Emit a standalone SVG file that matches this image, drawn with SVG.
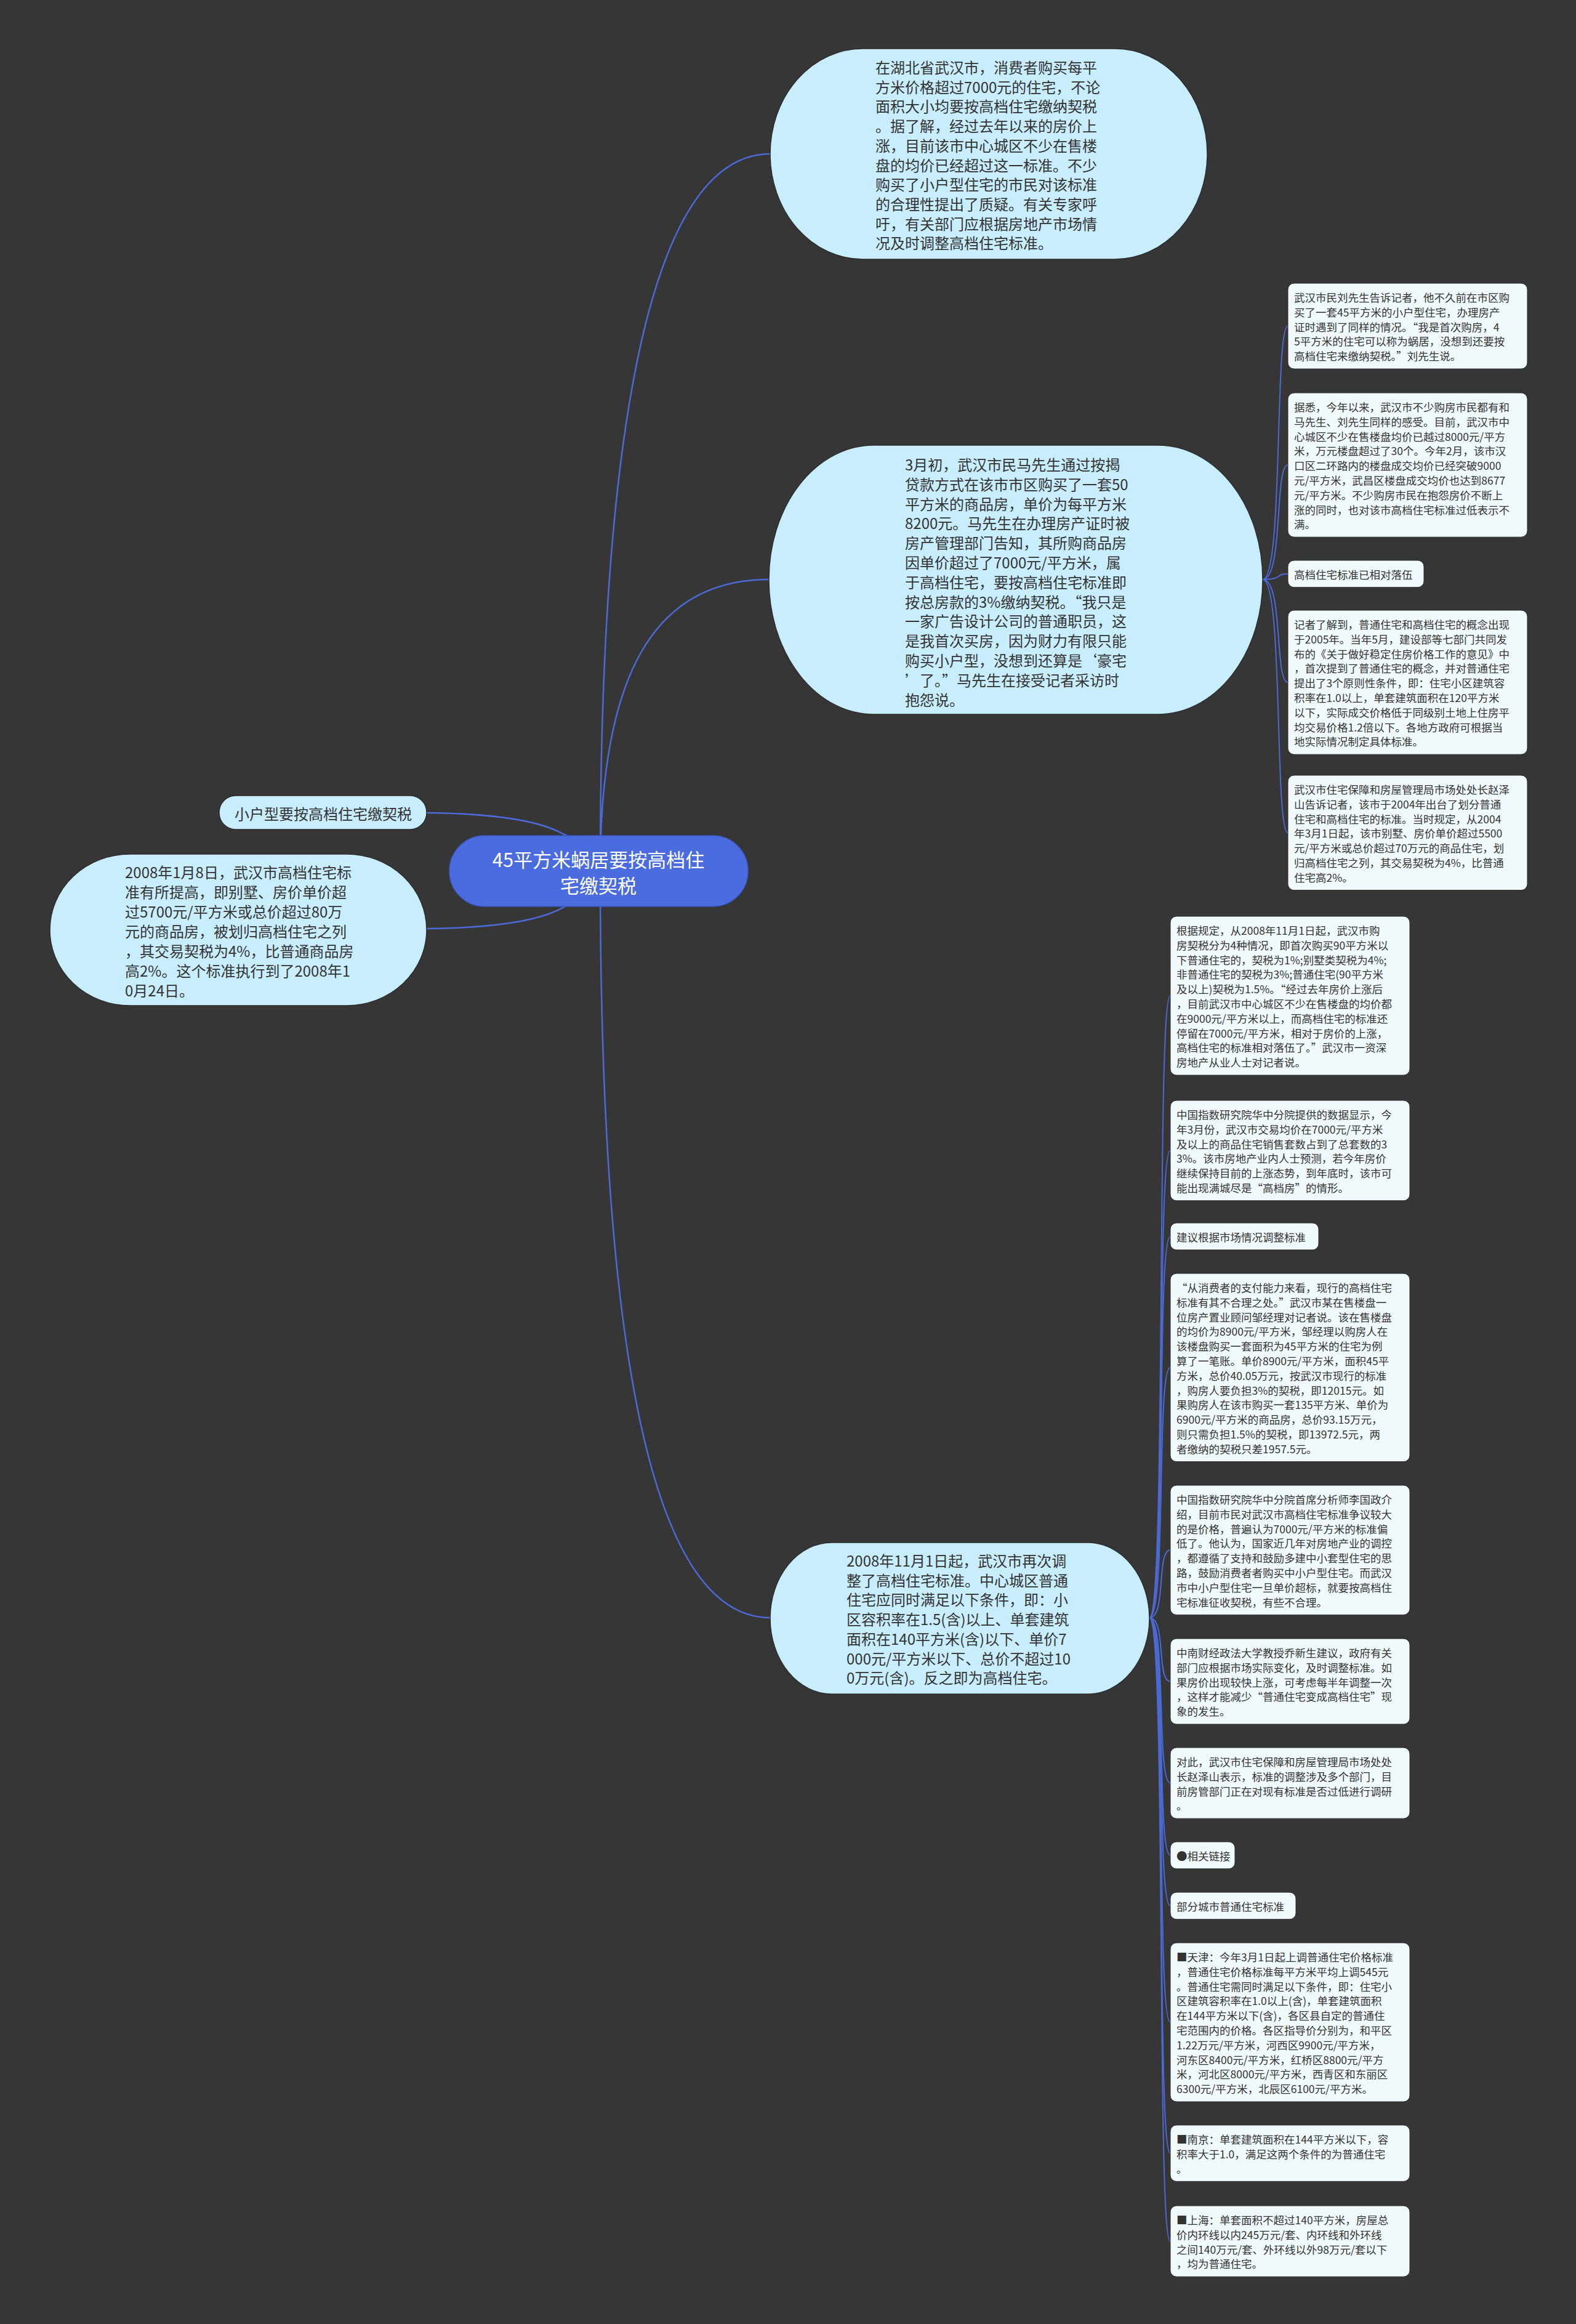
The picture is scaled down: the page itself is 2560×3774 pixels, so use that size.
<svg xmlns="http://www.w3.org/2000/svg" width="2560" height="3774" viewBox="0 0 2560 3774">
<style>
.bg{fill:#363636}
.big{fill:#c8edfc;stroke:#2c2c2c;stroke-width:1.5}
.sub{fill:#f0fafc;stroke:#2c2c2c;stroke-width:1}
.root{fill:#4a6cdf;stroke:#3a58c0;stroke-width:1.5}
text{font-family:"Noto Sans CJK SC","Noto Sans",sans-serif;dominant-baseline:central;fill:#333333}
.t24{font-size:24px}
.t17{font-size:17.5px}
.rt{font-size:31px;fill:#ffffff;text-anchor:middle}
.ln{fill:none;stroke:#4c6ad6;stroke-width:2.5}
.ls{fill:none;stroke:#4c6ad6;stroke-width:2}
</style>
<rect class="bg" x="0" y="0" width="2560" height="3774"/>
<g id="connectors">
<path class="ln" d="M975 1414 C975 680 1060 250 1251 250"/>
<path class="ln" d="M975 1414 C975 1100 1060 941 1249 941"/>
<path class="ln" d="M975 1414 C975 2200 1060 2627 1251 2627"/>
<path class="ln" d="M975 1414 C940 1350 880 1322 693 1320"/>
<path class="ln" d="M975 1414 C940 1478 880 1506 693 1508"/>
<path class="ls" d="M2051 941 C2085 941 2070 529.5 2092 529.5"/>
<path class="ls" d="M2051 941 C2085 941 2070 755.1 2092 755.1"/>
<path class="ls" d="M2051 941 C2085 941 2070 931.9 2092 931.9"/>
<path class="ls" d="M2051 941 C2085 941 2070 1108.1 2092 1108.1"/>
<path class="ls" d="M2051 941 C2085 941 2070 1352.3 2092 1352.3"/>
<path class="ls" d="M1867 2627 C1895 2627 1878 1617 1901 1617"/>
<path class="ls" d="M1867 2627 C1895 2627 1878 1868.4 1901 1868.4"/>
<path class="ls" d="M1867 2627 C1895 2627 1878 2007.9 1901 2007.9"/>
<path class="ls" d="M1867 2627 C1895 2627 1878 2220.8 1901 2220.8"/>
<path class="ls" d="M1867 2627 C1895 2627 1878 2517.2 1901 2517.2"/>
<path class="ls" d="M1867 2627 C1895 2627 1878 2730.5 1901 2730.5"/>
<path class="ls" d="M1867 2627 C1895 2627 1878 2895.6 1901 2895.6"/>
<path class="ls" d="M1867 2627 C1895 2627 1878 3012.9 1901 3012.9"/>
<path class="ls" d="M1867 2627 C1895 2627 1878 3094.9 1901 3094.9"/>
<path class="ls" d="M1867 2627 C1895 2627 1878 3284 1901 3284"/>
<path class="ls" d="M1867 2627 C1895 2627 1878 3496.7 1901 3496.7"/>
<path class="ls" d="M1867 2627 C1895 2627 1878 3639.6 1901 3639.6"/>
</g>
<g id="root">
<rect class="root" x="730" y="1357" width="485" height="115" rx="57" ry="57"/>
<text class="rt"><tspan x="972" y="1394">45平方米蜗居要按高档住</tspan><tspan x="972" y="1436">宅缴契税</tspan></text>
</g>
<g id="n-top">
<rect class="big" x="1251" y="79" width="710" height="342" rx="150" ry="171"/>
<text class="t24"><tspan x="1422" y="108">在湖北省武汉市，消费者购买每平</tspan><tspan x="1422" y="139.7">方米价格超过7000元的住宅，不论</tspan><tspan x="1422" y="171.4">面积大小均要按高档住宅缴纳契税</tspan><tspan x="1422" y="203.1">。据了解，经过去年以来的房价上</tspan><tspan x="1422" y="234.8">涨，目前该市中心城区不少在售楼</tspan><tspan x="1422" y="266.5">盘的均价已经超过这一标准。不少</tspan><tspan x="1422" y="298.2">购买了小户型住宅的市民对该标准</tspan><tspan x="1422" y="329.9">的合理性提出了质疑。有关专家呼</tspan><tspan x="1422" y="361.6">吁，有关部门应根据房地产市场情</tspan><tspan x="1422" y="393.3">况及时调整高档住宅标准。</tspan></text>
</g>
<g id="n-ma">
<rect class="big" x="1249" y="723" width="802" height="437" rx="170" ry="218"/>
<text class="t24"><tspan x="1470" y="753">3月初，武汉市民马先生通过按揭</tspan><tspan x="1470" y="784.8">贷款方式在该市市区购买了一套50</tspan><tspan x="1470" y="816.6">平方米的商品房，单价为每平方米</tspan><tspan x="1470" y="848.4">8200元。马先生在办理房产证时被</tspan><tspan x="1470" y="880.2">房产管理部门告知，其所购商品房</tspan><tspan x="1470" y="912">因单价超过了7000元/平方米，属</tspan><tspan x="1470" y="943.8">于高档住宅，要按高档住宅标准即</tspan><tspan x="1470" y="975.6">按总房款的3%缴纳契税。“我只是</tspan><tspan x="1470" y="1007.4">一家广告设计公司的普通职员，这</tspan><tspan x="1470" y="1039.2">是我首次买房，因为财力有限只能</tspan><tspan x="1470" y="1071">购买小户型，没想到还算是‘豪宅</tspan><tspan x="1470" y="1102.8">’了。”马先生在接受记者采访时</tspan><tspan x="1470" y="1134.6">抱怨说。</tspan></text>
</g>
<g id="n-nov">
<rect class="big" x="1251" y="2505" width="616" height="246" rx="100" ry="123"/>
<text class="t24"><tspan x="1375" y="2533">2008年11月1日起，武汉市再次调</tspan><tspan x="1375" y="2564.7">整了高档住宅标准。中心城区普通</tspan><tspan x="1375" y="2596.4">住宅应同时满足以下条件，即：小</tspan><tspan x="1375" y="2628.1">区容积率在1.5(含)以上、单套建筑</tspan><tspan x="1375" y="2659.8">面积在140平方米(含)以下、单价7</tspan><tspan x="1375" y="2691.5">000元/平方米以下、总价不超过10</tspan><tspan x="1375" y="2723.2">0万元(含)。反之即为高档住宅。</tspan></text>
</g>
<g id="n-small">
<rect class="big" x="356" y="1292" width="337" height="55" rx="27" ry="27"/>
<text class="t24" text-anchor="middle" x="525" y="1320">小户型要按高档住宅缴契税</text>
</g>
<g id="n-jan">
<rect class="big" x="81" y="1387" width="612" height="246" rx="130" ry="123"/>
<text class="t24"><tspan x="203" y="1415">2008年1月8日，武汉市高档住宅标</tspan><tspan x="203" y="1447">准有所提高，即别墅、房价单价超</tspan><tspan x="203" y="1479">过5700元/平方米或总价超过80万</tspan><tspan x="203" y="1511">元的商品房，被划归高档住宅之列</tspan><tspan x="203" y="1543">，其交易契税为4%，比普通商品房</tspan><tspan x="203" y="1575">高2%。这个标准执行到了2008年1</tspan><tspan x="203" y="1607">0月24日。</tspan></text>
</g>
<g id="n-a">
<rect class="sub" x="2092" y="460" width="389" height="139" rx="10"/>
<text class="t17"><tspan x="2102" y="482">武汉市民刘先生告诉记者，他不久前在市区购</tspan><tspan x="2102" y="505.8">买了一套45平方米的小户型住宅，办理房产</tspan><tspan x="2102" y="529.6">证时遇到了同样的情况。“我是首次购房，4</tspan><tspan x="2102" y="553.4">5平方米的住宅可以称为蜗居，没想到还要按</tspan><tspan x="2102" y="577.2">高档住宅来缴纳契税。”刘先生说。</tspan></text>
</g>
<g id="n-b">
<rect class="sub" x="2092" y="638" width="389" height="234.2" rx="10"/>
<text class="t17"><tspan x="2102" y="660">据悉，今年以来，武汉市不少购房市民都有和</tspan><tspan x="2102" y="683.8">马先生、刘先生同样的感受。目前，武汉市中</tspan><tspan x="2102" y="707.6">心城区不少在售楼盘均价已越过8000元/平方</tspan><tspan x="2102" y="731.4">米，万元楼盘超过了30个。今年2月，该市汉</tspan><tspan x="2102" y="755.2">口区二环路内的楼盘成交均价已经突破9000</tspan><tspan x="2102" y="779">元/平方米，武昌区楼盘成交均价也达到8677</tspan><tspan x="2102" y="802.8">元/平方米。不少购房市民在抱怨房价不断上</tspan><tspan x="2102" y="826.6">涨的同时，也对该市高档住宅标准过低表示不</tspan><tspan x="2102" y="850.4">满。</tspan></text>
</g>
<g id="n-c">
<rect class="sub" x="2092" y="910" width="221" height="43.8" rx="10"/>
<text class="t17" x="2102" y="932">高档住宅标准已相对落伍</text>
</g>
<g id="n-d">
<rect class="sub" x="2092" y="991" width="389" height="234.2" rx="10"/>
<text class="t17"><tspan x="2102" y="1013">记者了解到，普通住宅和高档住宅的概念出现</tspan><tspan x="2102" y="1036.8">于2005年。当年5月，建设部等七部门共同发</tspan><tspan x="2102" y="1060.6">布的《关于做好稳定住房价格工作的意见》中</tspan><tspan x="2102" y="1084.4">，首次提到了普通住宅的概念，并对普通住宅</tspan><tspan x="2102" y="1108.2">提出了3个原则性条件，即：住宅小区建筑容</tspan><tspan x="2102" y="1132">积率在1.0以上，单套建筑面积在120平方米</tspan><tspan x="2102" y="1155.8">以下，实际成交价格低于同级别土地上住房平</tspan><tspan x="2102" y="1179.6">均交易价格1.2倍以下。各地方政府可根据当</tspan><tspan x="2102" y="1203.4">地实际情况制定具体标准。</tspan></text>
</g>
<g id="n-e">
<rect class="sub" x="2092" y="1259" width="389" height="186.6" rx="10"/>
<text class="t17"><tspan x="2102" y="1281">武汉市住宅保障和房屋管理局市场处处长赵泽</tspan><tspan x="2102" y="1304.8">山告诉记者，该市于2004年出台了划分普通</tspan><tspan x="2102" y="1328.6">住宅和高档住宅的标准。当时规定，从2004</tspan><tspan x="2102" y="1352.4">年3月1日起，该市别墅、房价单价超过5500</tspan><tspan x="2102" y="1376.2">元/平方米或总价超过70万元的商品住宅，划</tspan><tspan x="2102" y="1400">归高档住宅之列，其交易契税为4%，比普通</tspan><tspan x="2102" y="1423.8">住宅高2%。</tspan></text>
</g>
<g id="n-f">
<rect class="sub" x="1901" y="1488" width="389" height="258" rx="10"/>
<text class="t17"><tspan x="1911" y="1510">根据规定，从2008年11月1日起，武汉市购</tspan><tspan x="1911" y="1533.8">房契税分为4种情况，即首次购买90平方米以</tspan><tspan x="1911" y="1557.6">下普通住宅的，契税为1%;别墅类契税为4%;</tspan><tspan x="1911" y="1581.4">非普通住宅的契税为3%;普通住宅(90平方米</tspan><tspan x="1911" y="1605.2">及以上)契税为1.5%。“经过去年房价上涨后</tspan><tspan x="1911" y="1629">，目前武汉市中心城区不少在售楼盘的均价都</tspan><tspan x="1911" y="1652.8">在9000元/平方米以上，而高档住宅的标准还</tspan><tspan x="1911" y="1676.6">停留在7000元/平方米，相对于房价的上涨，</tspan><tspan x="1911" y="1700.4">高档住宅的标准相对落伍了。”武汉市一资深</tspan><tspan x="1911" y="1724.2">房地产从业人士对记者说。</tspan></text>
</g>
<g id="n-g">
<rect class="sub" x="1901" y="1787" width="389" height="162.8" rx="10"/>
<text class="t17"><tspan x="1911" y="1809">中国指数研究院华中分院提供的数据显示，今</tspan><tspan x="1911" y="1832.8">年3月份，武汉市交易均价在7000元/平方米</tspan><tspan x="1911" y="1856.6">及以上的商品住宅销售套数占到了总套数的3</tspan><tspan x="1911" y="1880.4">3%。该市房地产业内人士预测，若今年房价</tspan><tspan x="1911" y="1904.2">继续保持目前的上涨态势，到年底时，该市可</tspan><tspan x="1911" y="1928">能出现满城尽是“高档房”的情形。</tspan></text>
</g>
<g id="n-h">
<rect class="sub" x="1901" y="1986" width="241" height="43.8" rx="10"/>
<text class="t17" x="1911" y="2008">建议根据市场情况调整标准</text>
</g>
<g id="n-i">
<rect class="sub" x="1901" y="2068" width="389" height="305.6" rx="10"/>
<text class="t17"><tspan x="1911" y="2090">“从消费者的支付能力来看，现行的高档住宅</tspan><tspan x="1911" y="2113.8">标准有其不合理之处。”武汉市某在售楼盘一</tspan><tspan x="1911" y="2137.6">位房产置业顾问邹经理对记者说。该在售楼盘</tspan><tspan x="1911" y="2161.4">的均价为8900元/平方米，邹经理以购房人在</tspan><tspan x="1911" y="2185.2">该楼盘购买一套面积为45平方米的住宅为例</tspan><tspan x="1911" y="2209">算了一笔账。单价8900元/平方米，面积45平</tspan><tspan x="1911" y="2232.8">方米，总价40.05万元，按武汉市现行的标准</tspan><tspan x="1911" y="2256.6">，购房人要负担3%的契税，即12015元。如</tspan><tspan x="1911" y="2280.4">果购房人在该市购买一套135平方米、单价为</tspan><tspan x="1911" y="2304.2">6900元/平方米的商品房，总价93.15万元，</tspan><tspan x="1911" y="2328">则只需负担1.5%的契税，即13972.5元，两</tspan><tspan x="1911" y="2351.8">者缴纳的契税只差1957.5元。</tspan></text>
</g>
<g id="n-j">
<rect class="sub" x="1901" y="2412" width="389" height="210.4" rx="10"/>
<text class="t17"><tspan x="1911" y="2434">中国指数研究院华中分院首席分析师李国政介</tspan><tspan x="1911" y="2457.8">绍，目前市民对武汉市高档住宅标准争议较大</tspan><tspan x="1911" y="2481.6">的是价格，普遍认为7000元/平方米的标准偏</tspan><tspan x="1911" y="2505.4">低了。他认为，国家近几年对房地产业的调控</tspan><tspan x="1911" y="2529.2">，都遵循了支持和鼓励多建中小套型住宅的思</tspan><tspan x="1911" y="2553">路，鼓励消费者者购买中小户型住宅。而武汉</tspan><tspan x="1911" y="2576.8">市中小户型住宅一旦单价超标，就要按高档住</tspan><tspan x="1911" y="2600.6">宅标准征收契税，有些不合理。</tspan></text>
</g>
<g id="n-k">
<rect class="sub" x="1901" y="2661" width="389" height="139" rx="10"/>
<text class="t17"><tspan x="1911" y="2683">中南财经政法大学教授乔新生建议，政府有关</tspan><tspan x="1911" y="2706.8">部门应根据市场实际变化，及时调整标准。如</tspan><tspan x="1911" y="2730.6">果房价出现较快上涨，可考虑每半年调整一次</tspan><tspan x="1911" y="2754.4">，这样才能减少“普通住宅变成高档住宅”现</tspan><tspan x="1911" y="2778.2">象的发生。</tspan></text>
</g>
<g id="n-l">
<rect class="sub" x="1901" y="2838" width="389" height="115.2" rx="10"/>
<text class="t17"><tspan x="1911" y="2860">对此，武汉市住宅保障和房屋管理局市场处处</tspan><tspan x="1911" y="2883.8">长赵泽山表示，标准的调整涉及多个部门，目</tspan><tspan x="1911" y="2907.6">前房管部门正在对现有标准是否过低进行调研</tspan><tspan x="1911" y="2931.4">。</tspan></text>
</g>
<g id="n-m">
<rect class="sub" x="1901" y="2991" width="105" height="43.8" rx="10"/>
<text class="t17" x="1911" y="3013">●相关链接</text>
</g>
<g id="n-n">
<rect class="sub" x="1901" y="3073" width="204" height="43.8" rx="10"/>
<text class="t17" x="1911" y="3095">部分城市普通住宅标准</text>
</g>
<g id="n-o">
<rect class="sub" x="1901" y="3155" width="389" height="258" rx="10"/>
<text class="t17"><tspan x="1911" y="3177">■天津：今年3月1日起上调普通住宅价格标准</tspan><tspan x="1911" y="3200.8">，普通住宅价格标准每平方米平均上调545元</tspan><tspan x="1911" y="3224.6">。普通住宅需同时满足以下条件，即：住宅小</tspan><tspan x="1911" y="3248.4">区建筑容积率在1.0以上(含)，单套建筑面积</tspan><tspan x="1911" y="3272.2">在144平方米以下(含)，各区县自定的普通住</tspan><tspan x="1911" y="3296">宅范围内的价格。各区指导价分别为，和平区</tspan><tspan x="1911" y="3319.8">1.22万元/平方米，河西区9900元/平方米，</tspan><tspan x="1911" y="3343.6">河东区8400元/平方米，红桥区8800元/平方</tspan><tspan x="1911" y="3367.4">米，河北区8000元/平方米，西青区和东丽区</tspan><tspan x="1911" y="3391.2">6300元/平方米，北辰区6100元/平方米。</tspan></text>
</g>
<g id="n-p">
<rect class="sub" x="1901" y="3451" width="389" height="91.4" rx="10"/>
<text class="t17"><tspan x="1911" y="3473">■南京：单套建筑面积在144平方米以下，容</tspan><tspan x="1911" y="3496.8">积率大于1.0，满足这两个条件的为普通住宅</tspan><tspan x="1911" y="3520.6">。</tspan></text>
</g>
<g id="n-q">
<rect class="sub" x="1901" y="3582" width="389" height="115.2" rx="10"/>
<text class="t17"><tspan x="1911" y="3604">■上海：单套面积不超过140平方米，房屋总</tspan><tspan x="1911" y="3627.8">价内环线以内245万元/套、内环线和外环线</tspan><tspan x="1911" y="3651.6">之间140万元/套、外环线以外98万元/套以下</tspan><tspan x="1911" y="3675.4">，均为普通住宅。</tspan></text>
</g>
</svg>
